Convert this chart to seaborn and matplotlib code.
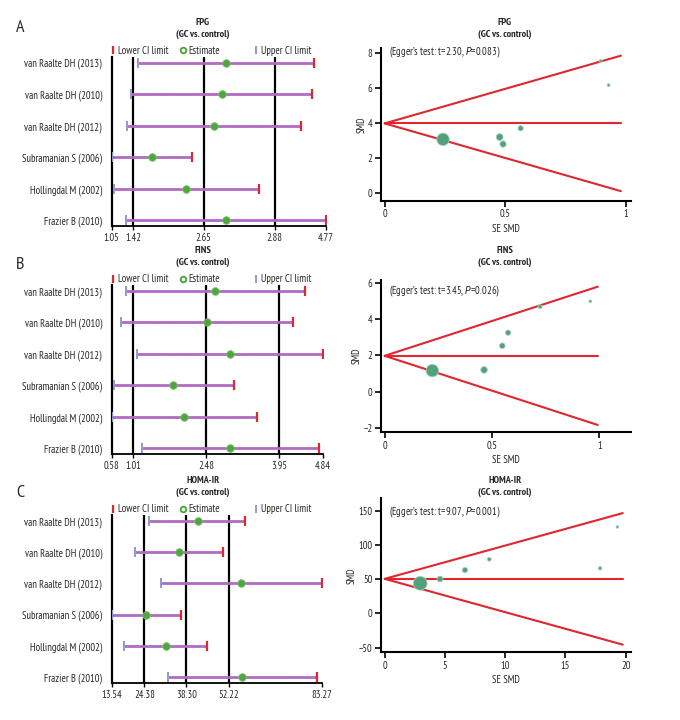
import numpy as np
import pandas as pd
import matplotlib
matplotlib.use("Agg")
import matplotlib.pyplot as plt
import seaborn as sns
from matplotlib.lines import Line2D

# ---------------- data ----------------
studies = ["van Raalte DH (2013)", "van Raalte DH (2010)", "van Raalte DH (2012)",
           "Subramanian S (2006)", "Hollingdal M (2002)", "Frazier B (2010)"]

# FPG forest
fpg_est = [3.04, 2.96, 2.83, 1.75, 2.35, 3.04]
fpg_left = [1.50, 1.39, 1.32, 1.05, 1.09, 1.30]
fpg_right = [4.57, 4.53, 4.34, 2.45, 3.61, 4.77]
fpg_ticks = [1.05, 1.42, 2.65, 3.88, 4.77]
fpg_tick_labels = ["1.05", "1.42", "2.65", "2.88", "4.77"]
# FPG funnel
fpg_se = [0.242, 0.477, 0.491, 0.564, 0.896, 0.929]
fpg_smd = [3.05, 3.18, 2.78, 3.68, 7.53, 6.15]
fpg_weight = [54.9, 16.1, 13.8, 9.6, 2.8, 2.8]
fpg_center, fpg_half, fpg_semax = 3.96, 3.87, 0.98
fpg_xticks = [0, 0.5, 1]
fpg_xtick_labels = ["0", "0.5", "1"]
fpg_yticks = [0, 2, 4, 6, 8]
fpg_egger = "(Egger\u2019s test: t=2.30, $\\it{P}$=0.083)"

# FINS forest
fins_est = [2.66, 2.49, 2.96, 1.82, 2.03, 2.96]
fins_left = [0.86, 0.76, 1.08, 0.62, 0.58, 1.20]
fins_right = [4.47, 4.22, 4.84, 3.05, 3.50, 4.76]
fins_ticks = [0.58, 1.01, 2.48, 3.95, 4.84]
fins_tick_labels = ["0.58", "1.01", "2.48", "3.95", "4.84"]
# FINS funnel
fins_se = [0.222, 0.463, 0.548, 0.575, 0.724, 0.958]
fins_smd = [1.16, 1.20, 2.54, 3.26, 4.70, 5.00]
fins_weight = [55.0, 15.3, 11.0, 9.6, 5.5, 2.5]
fins_center, fins_half, fins_semax = 1.98, 3.83, 0.993
fins_xticks = [0, 0.5, 1]
fins_xtick_labels = ["0", "0.5", "1"]
fins_yticks = [-2, 0, 2, 4, 6]
fins_egger = "(Egger\u2019s test: t=3.45, $\\it{P}$=0.026)"

# HOMA-IR forest
homa_est = [42.0, 35.9, 56.4, 24.9, 31.4, 56.7]
homa_left = [26.0, 21.4, 29.8, 13.54, 17.7, 32.3]
homa_right = [57.7, 50.3, 83.2, 36.4, 45.1, 81.4]
homa_ticks = [13.54, 24.38, 38.30, 52.22, 83.27]
homa_tick_labels = ["13.54", "24.38", "38.30", "52.22", "83.27"]
# HOMA-IR funnel
homa_se = [2.95, 4.59, 6.66, 8.68, 17.87, 19.3]
homa_smd = [44.0, 50.3, 63.4, 79.0, 65.9, 126.2]
homa_weight = [67.0, 11.8, 9.7, 4.8, 4.1, 2.2]
homa_center, homa_half, homa_semax = 50.5, 96.0, 19.75
homa_xticks = [0, 5, 10, 15, 20]
homa_xtick_labels = ["0", "5", "10", "15", "20"]
homa_yticks = [-50, 0, 50, 100, 150]
homa_egger = "(Egger\u2019s test: t=9.07, $\\it{P}$=0.001)"

titles = ["FPG", "FINS", "HOMA-IR"]
panel_letters = ["A", "B", "C"]
legend_labels = ["Lower CI limit", "Estimate", "Upper CI limit"]

# ---------------- style ----------------
sns.set_theme(style="ticks")
FONT = ["PT Sans Narrow", "Roboto Condensed", "Roboto", "DejaVu Sans"]
plt.rcParams["font.family"] = FONT
plt.rcParams["mathtext.fontset"] = "custom"
plt.rcParams["mathtext.it"] = "Roboto Condensed:italic"
plt.rcParams["mathtext.rm"] = "PT Sans Narrow"
plt.rcParams["axes.unicode_minus"] = True

W, H = 680, 720
fig = plt.figure(figsize=(W / 100, H / 100), dpi=100)
fig.patch.set_facecolor("white")


def box(l, t, r, b):
    return [l / W, 1 - b / H, (r - l) / W, (b - t) / H]


RED = "#e0262f"
BLUE = "#8e9ad6"
LINEC = "#b868c2"
GREEN = "#4ea63e"
PT = "#52a07c"
FS = 7.6
FST = 7.3

forest_specs = [
    dict(est=fpg_est, left=fpg_left, right=fpg_right, ticks=fpg_ticks, labels=fpg_tick_labels,
         box=(111.7, 56.7, 325.7, 226)),
    dict(est=fins_est, left=fins_left, right=fins_right, ticks=fins_ticks, labels=fins_tick_labels,
         box=(111.7, 285, 323.3, 454)),
    dict(est=homa_est, left=homa_left, right=homa_right, ticks=homa_ticks, labels=homa_tick_labels,
         box=(111.7, 515, 322.3, 682.7)),
]

funnel_specs = [
    dict(se=fpg_se, smd=fpg_smd, w=fpg_weight, c=fpg_center, h=fpg_half, m=fpg_semax,
         xt=fpg_xticks, xtl=fpg_xtick_labels, yt=fpg_yticks, eg=fpg_egger,
         xlim=(-0.0166, 1.0207), ylim=(-0.474, 8.286), box=(380.7, 47.7, 630.7, 201)),
    dict(se=fins_se, smd=fins_smd, w=fins_weight, c=fins_center, h=fins_half, m=fins_semax,
         xt=fins_xticks, xtl=fins_xtick_labels, yt=fins_yticks, eg=fins_egger,
         xlim=(-0.0186, 1.1463), ylim=(-2.255, 6.18), box=(380.7, 280, 630.7, 432.3)),
    dict(se=homa_se, smd=homa_smd, w=homa_weight, c=homa_center, h=homa_half, m=homa_semax,
         xt=homa_xticks, xtl=homa_xtick_labels, yt=homa_yticks, eg=homa_egger,
         xlim=(-0.33, 20.41), ylim=(-56.7, 168.1), box=(380.7, 498.3, 630.7, 652.3)),
]

title_y = [(22.7, 34.0), (250.7, 262.3), (480.7, 492.3)]
letter_y = [28, 265, 493]
legend_offsets_px = [-1.5, 68.5, 141.5]

for i in range(3):
    fs = forest_specs[i]
    ax = fig.add_axes(box(*fs["box"]))
    axw = fs["box"][2] - fs["box"][0]
    n = len(studies)
    df = pd.DataFrame({"study": studies, "pos": np.arange(n), "est": fs["est"],
                       "left": fs["left"], "right": fs["right"]})
    for t in fs["ticks"][1:-1]:
        ax.axvline(t, color="black", lw=1.6, zorder=1)
    ax.hlines(df["pos"], df["left"], df["right"], color=LINEC, lw=2.0, zorder=2)
    ax.hlines(df["pos"], df["left"], df["right"], color="#7d86d0", lw=0.8,
              linestyles=(0, (1, 1.5)), zorder=2.5, alpha=0.6)
    ax.plot(df["right"], df["pos"], ls="none", marker="|", ms=6.5, mew=1.6, color=RED, zorder=3)
    ax.plot(df["left"], df["pos"], ls="none", marker="|", ms=6.5, mew=1.4, color=BLUE, zorder=3)
    sns.scatterplot(data=df, x="est", y="pos", ax=ax, color=GREEN, s=30,
                    edgecolor="#7cc06e", linewidth=0.6, zorder=4, legend=False)
    ax.set_xlim(fs["ticks"][0], fs["ticks"][-1])
    ax.set_ylim(n - 1 + 0.18, -0.19)
    ax.set_xticks(fs["ticks"])
    ax.set_xticklabels(fs["labels"], fontsize=FS)
    ax.set_yticks(df["pos"])
    ax.set_yticklabels(df["study"], fontsize=FS)
    ax.set_xlabel("")
    ax.set_ylabel("")
    ax.tick_params(axis="y", length=0, pad=7)
    ax.tick_params(axis="x", length=3, width=1, direction="out", pad=2, color="black")
    for s in ["top", "right"]:
        ax.spines[s].set_visible(False)
    ax.spines["left"].set_linewidth(1.6)
    ax.spines["left"].set_color("black")
    ax.spines["bottom"].set_linewidth(1.3)
    ax.spines["bottom"].set_color("black")
    ax.set_facecolor("none")
    handles = [Line2D([], [], ls="none", marker="|", ms=6, mew=1.6, color=RED),
               Line2D([], [], ls="none", marker="o", ms=4, mfc="white", mec=GREEN, mew=1.4),
               Line2D([], [], ls="none", marker="|", ms=6, mew=1.4, color=BLUE)]
    legs = []
    for h, lab, off in zip(handles, legend_labels, legend_offsets_px):
        leg = ax.legend([h], [lab], loc="lower left", bbox_to_anchor=(off / axw, 1.0),
                        frameon=False, fontsize=FS, handlelength=0.5,
                        handletextpad=0.2, borderaxespad=0.0, borderpad=0.05)
        legs.append(leg)
    for leg in legs[:-1]:
        ax.add_artist(leg)
    fig.text(203 / W, 1 - title_y[i][0] / H, titles[i], ha="center", va="center",
             fontsize=FST, fontweight="bold")
    fig.text(203 / W, 1 - title_y[i][1] / H, "(GC vs. control)", ha="center", va="center",
             fontsize=FST, fontweight="bold")
    fig.text(20 / W, 1 - letter_y[i] / H, panel_letters[i], ha="center", va="center",
             fontsize=13)

    # funnel
    fu = funnel_specs[i]
    ax2 = fig.add_axes(box(*fu["box"]))
    fdf = pd.DataFrame({"se": fu["se"], "smd": fu["smd"], "w": fu["w"]})
    ax2.plot([0, fu["m"]], [fu["c"], fu["c"] + fu["h"]], color=RED, lw=1.5, zorder=2)
    ax2.plot([0, fu["m"]], [fu["c"], fu["c"] - fu["h"]], color=RED, lw=1.5, zorder=2)
    ax2.plot([0, fu["m"]], [fu["c"], fu["c"]], color=RED, lw=1.5, zorder=2)
    wmax = max(fu["w"])
    sns.scatterplot(data=fdf, x="se", y="smd", size="w", sizes=(0, 1.45 * wmax),
                    size_norm=(0, wmax), color=PT, edgecolor="#9ccfb3", linewidth=0.6,
                    ax=ax2, legend=False, zorder=3)
    ax2.set_xlim(*fu["xlim"])
    ax2.set_ylim(*fu["ylim"])
    ax2.set_xticks(fu["xt"])
    ax2.set_xticklabels(fu["xtl"], fontsize=FS)
    ax2.set_yticks(fu["yt"])
    ax2.set_yticklabels([str(v).replace("-", "\u2212") for v in fu["yt"]], fontsize=FS)
    ax2.set_xlabel("SE SMD", fontsize=FS, labelpad=3)
    ax2.set_ylabel("SMD", fontsize=FS, labelpad=1)
    ax2.tick_params(length=4, width=1.2, direction="out", pad=2, color="black")
    for s in ["top", "right"]:
        ax2.spines[s].set_visible(False)
    for s in ["left", "bottom"]:
        ax2.spines[s].set_linewidth(1.5)
        ax2.spines[s].set_color("black")
    ax2.set_facecolor("none")
    fig.text(505 / W, 1 - title_y[i][0] / H, titles[i], ha="center", va="center",
             fontsize=FST, fontweight="bold")
    fig.text(505 / W, 1 - title_y[i][1] / H, "(GC vs. control)", ha="center", va="center",
             fontsize=FST, fontweight="bold")
    eg_y = [52.3, 291, 512.3][i]
    fig.text(389.3 / W, 1 - eg_y / H, fu["eg"], ha="left", va="center", fontsize=FS)

fig.savefig("out.png", dpi=100, facecolor="white")
